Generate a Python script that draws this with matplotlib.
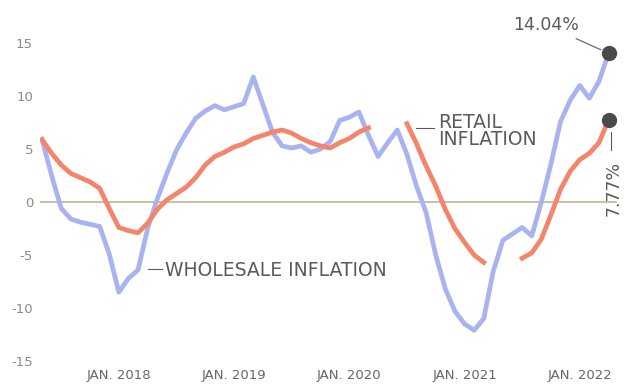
import matplotlib.pyplot as plt
import numpy as np

# monthly readings, May 2017 - Apr 2022 (%)
wholesale = [5.9, 2.5, -0.6, -1.6, -1.9, -2.1, -2.3, -4.9, -8.5, -7.2,
             -6.4, -2.5, 0.3, 2.7, 4.9, 6.5, 7.9, 8.6, 9.1, 8.7,
             9.0, 9.3, 11.8, 9.2, 6.6, 5.3, 5.1, 5.3, 4.7, 5.0,
             5.7, 7.7, 8.0, 8.5, 6.3, 4.3, 5.6, 6.8, 4.5, 1.5,
             -1.0, -5.0, -8.2, -10.3, -11.5, -12.1, -11.0, -6.5, -3.6, -3.0,
             -2.4, -3.2, 0.0, 3.6, 7.6, 9.6, 11.0, 9.8, 11.4, 14.04]
retail = [5.9, 4.6, 3.5, 2.7, 2.3, 1.9, 1.3, -0.6, -2.4, -2.7,
          -2.9, -2.0, -0.7, 0.2, 0.8, 1.4, 2.3, 3.5, 4.3, 4.7,
          5.2, 5.5, 6.0, 6.3, 6.6, 6.8, 6.5, 6.0, 5.6, 5.3,
          5.1, 5.6, 6.0, 6.6, 7.0, None, None, None, 7.4, 5.5,
          3.4, 1.5, -0.7, -2.5, -3.8, -5.0, -5.7, None, None, None,
          -5.3, -4.8, -3.5, -1.2, 1.2, 2.9, 4.0, 4.6, 5.6, 7.77]
tick_labels = ['JAN. 2018', 'JAN. 2019', 'JAN. 2020', 'JAN. 2021', 'JAN. 2022']
tick_months = [8, 20, 32, 44, 56]
yticks = [-15, -10, -5, 0, 5, 10, 15]

blue = '#a9b3ef'
red = '#f4846a'
grey = '#5a5a5a'

w = np.array(wholesale, dtype=float)
r = np.array([np.nan if v is None else v for v in retail])
x = np.arange(len(w))

fig = plt.figure(figsize=(6.34, 3.84), dpi=100)
ax = fig.add_axes([0.0631, 0.0417, 0.918, 0.880])
ax.set_xlim(-0.21, 60.4)
ax.set_ylim(-15.66, 16.23)

ax.axhline(0, color='#cbb894', lw=1.3, xmin=0.0, xmax=0.99, zorder=1)
ax.plot(x, w, color=blue, lw=3.4, solid_joinstyle='round', zorder=2)
ax.plot(x, r, color=red, lw=3.4, solid_joinstyle='round', zorder=3)

# end-point dots
ax.plot([x[-1]], [w[-1]], 'o', color='#4a4a4a', ms=10, zorder=4)
ax.plot([x[-1]], [r[-1]], 'o', color='#4a4a4a', ms=10, zorder=4)

ax.annotate(f'{w[-1]:.2f}%', xy=(x[-1], w[-1]), xytext=(52.5, 16.7),
            ha='center', va='center', fontsize=12.5, color=grey,
            annotation_clip=False,
            arrowprops=dict(arrowstyle='-', color=grey, lw=0.8,
                            shrinkA=3, shrinkB=6))
ax.plot([x[-1] + 0.3, x[-1] + 0.3], [r[-1] - 1.2, r[-1] - 2.9], color=grey, lw=0.8)
ax.text(x[-1] + 0.5, 1.3, f'{r[-1]:.2f}%', rotation=90, ha='center', va='center',
        fontsize=12.5, color=grey)

ax.plot([11.0, 12.5], [-6.3, -6.3], color=grey, lw=0.8)
ax.text(12.8, -6.5, 'WHOLESALE INFLATION', fontsize=13.5, color=grey,
        va='center', ha='left')
ax.plot([38.9, 40.8], [7.0, 7.0], color=grey, lw=0.8)
ax.text(41.3, 6.7, 'RETAIL\nINFLATION', fontsize=13.5, color=grey,
        va='center', ha='left', linespacing=0.9)

ax.set_yticks(yticks)
ax.set_yticklabels([str(v) for v in yticks])
ax.set_xticks(tick_months)
ax.set_xticklabels(tick_labels)
ax.tick_params(axis='y', length=0, pad=5, labelsize=9.5, labelcolor='#8a8a8a')
ax.tick_params(axis='x', length=0, pad=0.5, labelsize=9.5, labelcolor='#666666')
for s in ax.spines.values():
    s.set_visible(False)

fig.savefig('out.png', dpi=100)
